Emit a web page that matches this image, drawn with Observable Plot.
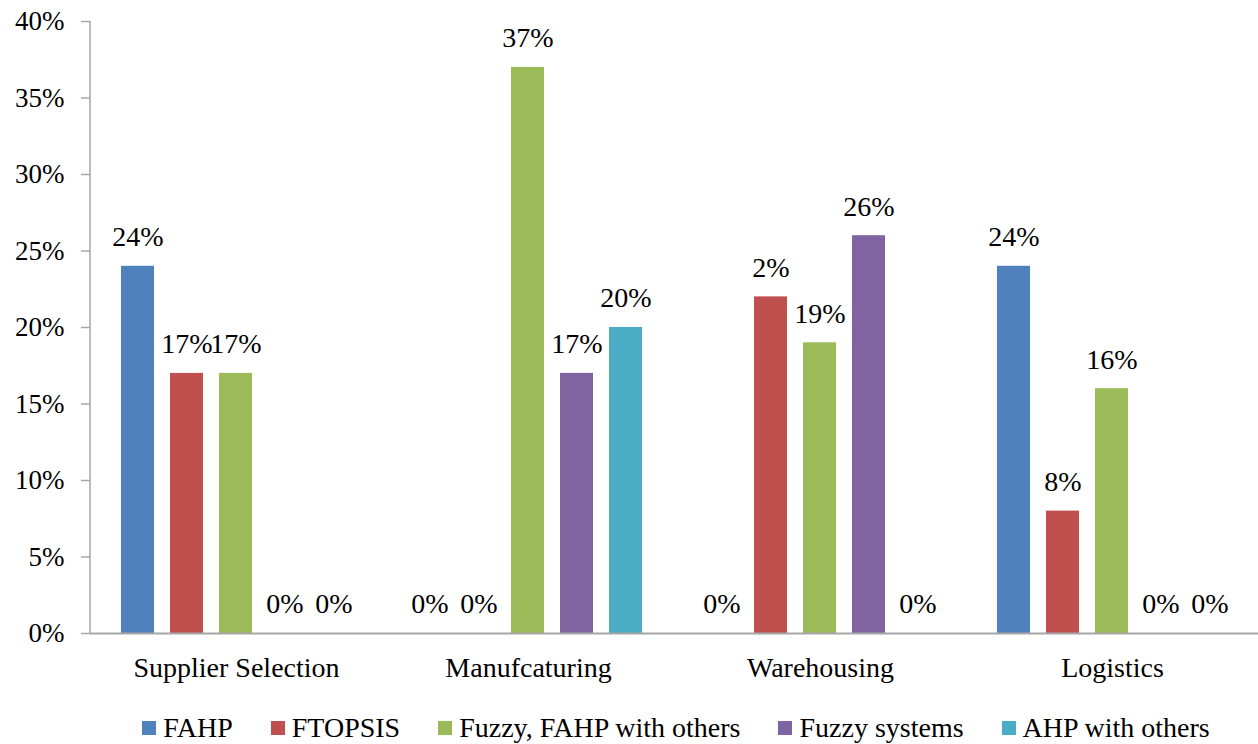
<!DOCTYPE html>
<html><head><meta charset="utf-8">
<script src="https://cdn.jsdelivr.net/npm/d3@7"></script>
<script src="https://cdn.jsdelivr.net/npm/@observablehq/plot@0.6"></script>
<style>
body{margin:0;background:#fff;font-family:"Liberation Serif","Tinos","Times New Roman","DejaVu Serif",serif;}
#legend{display:flex;justify-content:center;align-items:center;height:44px;padding-top:6px;padding-left:94px;width:1164px;font-size:28px;color:#000;}
.item{display:flex;align-items:center;margin:0 19px;}
.sw{width:14px;height:14px;margin-right:7px;}
svg text{font-family:"Liberation Serif","Tinos","Times New Roman","DejaVu Serif",serif;}
</style></head><body>
<div id="chart"></div><div id="legend"></div>
<script>
const categories = ["Supplier Selection", "Manufcaturing", "Warehousing", "Logistics"];
const series = ["FAHP", "FTOPSIS", "Fuzzy, FAHP with others", "Fuzzy systems", "AHP with others"];
const colors = ["#4F81BD", "#C0504D", "#9BBB59", "#8064A2", "#4BACC6"];
const fahp = [24, 0, 0, 24];
const ftopsis = [17, 0, 22, 8];
const fuzzyFahp = [17, 37, 19, 16];
const fuzzySystems = [0, 17, 26, 0];
const ahpOthers = [0, 20, 0, 0];
const fahpLabels = ["24%", "0%", "0%", "24%"];
const ftopsisLabels = ["17%", "0%", "2%", "8%"];
const fuzzyFahpLabels = ["17%", "37%", "19%", "16%"];
const fuzzySystemsLabels = ["0%", "17%", "26%", "0%"];
const ahpOthersLabels = ["0%", "20%", "0%", "0%"];
const yTicks = [0, 5, 10, 15, 20, 25, 30, 35, 40];

const valueSets = [fahp, ftopsis, fuzzyFahp, fuzzySystems, ahpOthers];
const labelSets = [fahpLabels, ftopsisLabels, fuzzyFahpLabels, fuzzySystemsLabels, ahpOthersLabels];
const data = [];
series.forEach((s, i) => categories.forEach((c, j) => data.push({category: c, series: s, value: valueSets[i][j], label: labelSets[i][j]})));

const FONT = '"Liberation Serif", "Tinos", "Times New Roman", "DejaVu Serif", serif';
const chart = Plot.plot({
  width: 1258, height: 700,
  marginLeft: 90, marginRight: 0, marginTop: 21, marginBottom: 67,
  style: {fontFamily: FONT, fontSize: "27px", background: "white", color: "black"},
  fx: {domain: categories, padding: 0, label: null},
  x: {domain: series, paddingInner: 0.32, paddingOuter: 0.61, axis: null},
  y: {domain: [0, 40], axis: null},
  color: {domain: series, range: colors},
  marks: [
    Plot.axisY(yTicks, {tickFormat: d => d + "%", tickSize: 9, stroke: "#a6a6a6", strokeWidth: 1.5, fill: "black", tickPadding: 17, fontSize: 27, label: null}),
    Plot.axisFx({anchor: "bottom", tickSize: 0, tickPadding: 24, fontSize: 28, label: null, fill: "black"}),
    Plot.barY(data, {fx: "category", x: "series", y: "value", fill: "series"}),
    Plot.ruleY([0], {stroke: "#a6a6a6", strokeWidth: 2}),
    Plot.text(data, {fx: "category", x: "series", y: "value", text: "label", dy: -29, fontSize: 28, fill: "black"})
  ]
});
const ys = chart.scale("y");
d3.select(chart).append("line")
  .attr("x1", 90).attr("x2", 90)
  .attr("y1", ys.apply(0)).attr("y2", ys.apply(40))
  .attr("stroke", "#a6a6a6").attr("stroke-width", 1.5);
document.getElementById("chart").append(chart);

const legend = document.getElementById("legend");
series.forEach((s, i) => {
  const it = document.createElement("div"); it.className = "item";
  const sw = document.createElement("div"); sw.className = "sw"; sw.style.background = colors[i];
  const tx = document.createElement("span"); tx.textContent = s;
  it.append(sw, tx); legend.append(it);
});
</script>
</body></html>
